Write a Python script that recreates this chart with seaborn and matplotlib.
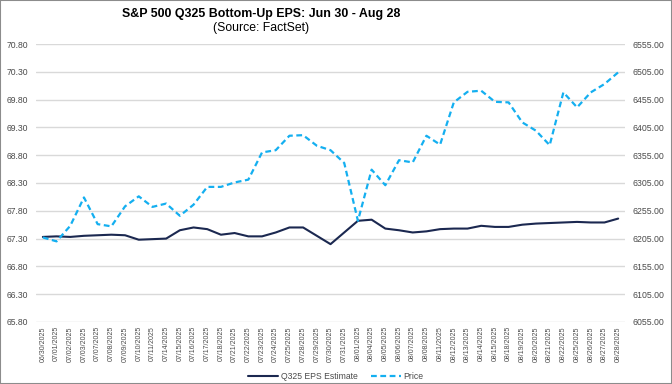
import numpy as np
import pandas as pd
import seaborn as sns
import matplotlib.pyplot as plt

# Trading days shown on the x axis
dates = ["06/30/2025", "07/01/2025", "07/02/2025", "07/03/2025", "07/07/2025", "07/08/2025",
         "07/09/2025", "07/10/2025", "07/11/2025", "07/14/2025", "07/15/2025", "07/16/2025",
         "07/17/2025", "07/18/2025", "07/21/2025", "07/22/2025", "07/23/2025", "07/24/2025",
         "07/25/2025", "07/28/2025", "07/29/2025", "07/30/2025", "07/31/2025", "08/01/2025",
         "08/04/2025", "08/05/2025", "08/06/2025", "08/07/2025", "08/08/2025", "08/11/2025",
         "08/12/2025", "08/13/2025", "08/14/2025", "08/15/2025", "08/18/2025", "08/19/2025",
         "08/20/2025", "08/21/2025", "08/22/2025", "08/25/2025", "08/26/2025", "08/27/2025",
         "08/28/2025"]

# Q325 bottom-up EPS estimate (left axis)
eps = [67.33, 67.34, 67.33, 67.35, 67.36, 67.37, 67.36, 67.28, 67.29, 67.30, 67.45, 67.50,
       67.47, 67.37, 67.40, 67.34, 67.34, 67.41, 67.50, 67.50, 67.35, 67.20, 67.41, 67.62,
       67.64, 67.48, 67.45, 67.41, 67.43, 67.47, 67.48, 67.48, 67.53, 67.51, 67.51, 67.55,
       67.57, 67.58, 67.59, 67.60, 67.59, 67.59, 67.66]

# S&P 500 price (right axis)
price = [6207, 6200, 6228, 6279, 6231, 6227, 6263, 6281, 6262, 6268, 6246, 6266,
         6298, 6298, 6306, 6311, 6360, 6364, 6390, 6391, 6372, 6364, 6341, 6237,
         6329, 6301, 6346, 6342, 6390, 6374, 6450, 6469, 6471, 6451, 6450, 6414,
         6399, 6373, 6468, 6441, 6468, 6483, 6504]

eps_ticks = np.arange(65.80, 70.81, 0.5)
price_ticks = np.arange(6055, 6556, 50)

df = pd.DataFrame({"date": dates, "eps": eps, "price": price})

sns.set_style("white")
plt.rcParams["font.family"] = ["Liberation Sans", "DejaVu Sans"]

navy = "#1b2850"
blue = "#14aff0"
grey_txt = "#4a4a4a"

fig = plt.figure(figsize=(6.72, 3.84), dpi=100)
ax = fig.add_axes([0.0536, 0.1615, 0.8765, 0.7239])
ax2 = ax.twinx()

sns.lineplot(data=df, x="date", y="eps", ax=ax, color=navy, linewidth=1.5,
             sort=False, label="Q325 EPS Estimate", legend=False)
sns.lineplot(data=df, x="date", y="price", ax=ax2, color=blue, linewidth=1.6,
             sort=False, label="Price", legend=False, dashes=False)
ax2.lines[0].set_dashes([2.6, 1.6])

ax.set_xlim(-0.5, len(dates) - 0.5)
ax.set_ylim(eps_ticks[0], eps_ticks[-1])
ax2.set_ylim(price_ticks[0], price_ticks[-1])
ax.set_yticks(eps_ticks)
ax.set_yticklabels([f"{v:.2f}" for v in eps_ticks])
ax2.set_yticks(price_ticks)
ax2.set_yticklabels([f"{v:.2f}" for v in price_ticks])

ax.set_xticks(range(len(dates)))
ax.set_xticklabels(dates, rotation=90)

ax.grid(axis="y", color="#d9d9d9", linewidth=1.0)
ax.set_axisbelow(True)
for a in (ax, ax2):
    for s in a.spines.values():
        s.set_visible(False)
    a.set_xlabel("")
    a.set_ylabel("")
ax.tick_params(axis="y", length=0, pad=5.5, labelsize=6.2, labelcolor=grey_txt)
ax2.tick_params(axis="y", length=0, pad=5.5, labelsize=6.3, labelcolor=grey_txt)
ax.tick_params(axis="x", length=0, pad=3, labelsize=5, labelcolor=grey_txt)

fig.text(0.388, 0.963, "S&P 500 Q325 Bottom-Up EPS: Jun 30 - Aug 28", ha="center",
         va="center", fontsize=8.9, fontweight="bold", color="#000000")
fig.text(0.388, 0.927, "(Source: FactSet)", ha="center", va="center",
         fontsize=8.8, color="#000000")

handles = ax.get_lines()[:1] + ax2.get_lines()[:1]
fig.legend(handles, ["Q325 EPS Estimate", "Price"], loc="center",
           bbox_to_anchor=(0.5, 0.02), ncol=2, frameon=False, fontsize=6.2,
           handlelength=3.5, handletextpad=0.3, columnspacing=1.5,
           labelcolor=grey_txt)

fig.patches.append(plt.Rectangle((0, 0), 1, 1, transform=fig.transFigure,
                                 fill=False, edgecolor="#8c8c8c", linewidth=1.5))

fig.savefig("out.png", dpi=100)
